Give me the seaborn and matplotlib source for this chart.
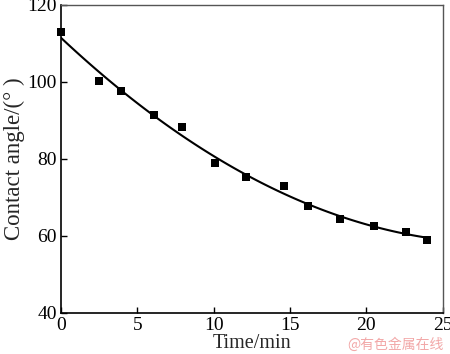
import seaborn as sns
import matplotlib.pyplot as plt
import pandas as pd

# contact angle vs. time
time_min = [0.0, 2.5, 3.9, 6.1, 7.9, 10.1, 12.1, 14.6, 16.2, 18.3, 20.5, 22.6, 24.0]
contact_angle = [113.0, 100.2, 97.6, 91.4, 88.2, 78.9, 75.3, 73.0, 67.9, 64.3, 62.6, 61.1, 59.0]

df = pd.DataFrame({"time": time_min, "angle": contact_angle})

sns.set_theme(style="ticks")
plt.rcParams["font.family"] = ["Liberation Serif", "DejaVu Serif"]

fig = plt.figure(figsize=(4.5, 3.54), dpi=100)
ax = fig.add_axes([0.1356, 0.116, 0.848, 0.870])

# fitted curve (quadratic fit through the library) + measured points
sns.regplot(data=df, x="time", y="angle", order=2, ci=None, scatter=False,
            line_kws={"color": "black", "lw": 1.5}, ax=ax)
sns.scatterplot(data=df, x="time", y="angle", marker="s", s=30,
                color="black", edgecolor="black", linewidth=0, ax=ax,
                zorder=3, clip_on=False)

ax.set_xlim(0, 25)
ax.set_ylim(40, 120)
ax.set_xticks([0, 5, 10, 15, 20, 25])
ax.set_yticks([40, 60, 80, 100, 120])
ax.tick_params(direction="in", length=4, width=1, labelsize=14, pad=3,
               colors="black")
for side in ["top", "right"]:
    ax.spines[side].set_color("#555555")
    ax.spines[side].set_linewidth(1)
for side in ["left", "bottom"]:
    ax.spines[side].set_color("black")
    ax.spines[side].set_linewidth(1.2)

ax.set_xlabel("Time/min", fontsize=14.5, labelpad=0)
ax.set_ylabel("Contact angle/(° )", fontsize=16.5, labelpad=2)

# watermark
fig.text(0.985, 0.005, "@有色金属在线", color="#f2a8a8", fontsize=10,
         ha="right", va="bottom",
         family=["Noto Sans CJK SC", "DejaVu Sans"])

fig.savefig("out.png", dpi=100)
